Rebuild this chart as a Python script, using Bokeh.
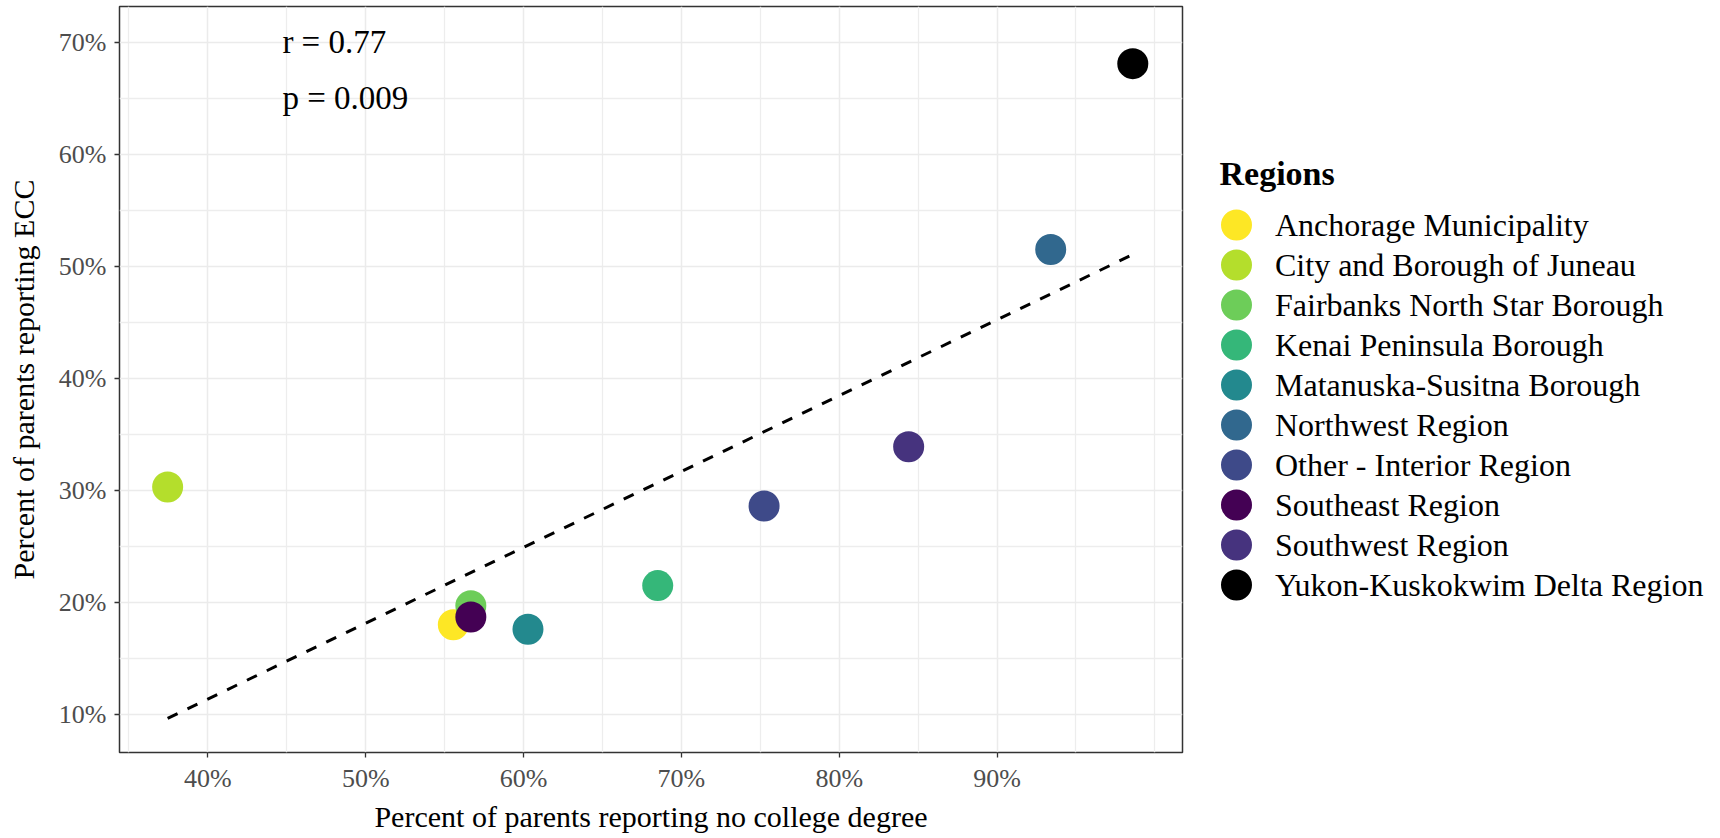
import numpy as np
from bokeh.plotting import figure
from bokeh.models import FixedTicker, Range1d, ColumnDataSource
from bokeh.layouts import row
from bokeh.embed import file_html
from bokeh.resources import INLINE
from bokeh.core.properties import value

# ---------------- data ----------------
regions = [
    "Anchorage Municipality",
    "City and Borough of Juneau",
    "Fairbanks North Star Borough",
    "Kenai Peninsula Borough",
    "Matanuska-Susitna Borough",
    "Northwest Region",
    "Other - Interior Region",
    "Southeast Region",
    "Southwest Region",
    "Yukon-Kuskokwim Delta Region",
]
no_college_pct = [55.55, 37.45, 56.66, 68.5, 60.28, 93.4, 75.24, 56.66, 84.4, 98.6]
ecc_pct = [18.0, 30.3, 19.7, 21.5, 17.6, 51.5, 28.6, 18.7, 33.9, 68.1]
region_colors = ["#FDE725", "#B4DE2C", "#6DCD59", "#35B779", "#23898E",
                 "#31688E", "#3E4A89", "#440154", "#46337E", "#000000"]

x_ticks = [40, 50, 60, 70, 80, 90]
x_tick_labels = ["40%", "50%", "60%", "70%", "80%", "90%"]
y_ticks = [10, 20, 30, 40, 50, 60, 70]
y_tick_labels = ["10%", "20%", "30%", "40%", "50%", "60%", "70%"]

stat_labels = ["r = 0.77", "p = 0.009"]
legend_title = "Regions"
x_title = "Percent of parents reporting no college degree"
y_title = "Percent of parents reporting ECC"

FONT = "Liberation Serif"
FRAME_H = 746

# ---------------- main plot ----------------
p = figure(frame_width=1063, frame_height=FRAME_H,
           x_range=Range1d(34.4, 101.75), y_range=Range1d(6.6, 73.2),
           output_backend="svg", toolbar_location=None,
           min_border_left=119, min_border_right=10,
           min_border_top=6, min_border_bottom=84)
p.background_fill_color = "white"
p.border_fill_color = "white"
p.outline_line_color = "#333333"
p.outline_line_width = 1.5

xt = FixedTicker(ticks=x_ticks, minor_ticks=[35, 45, 55, 65, 75, 85, 95, 100])
yt = FixedTicker(ticks=y_ticks, minor_ticks=[15, 25, 35, 45, 55, 65])
p.xaxis.ticker = xt
p.yaxis.ticker = yt
p.xgrid.ticker = xt
p.ygrid.ticker = yt
for g in (p.xgrid, p.ygrid):
    g.grid_line_color = "#EBEBEB"
    g.grid_line_width = 1.5
    g.minor_grid_line_color = "#EDEDED"
    g.minor_grid_line_width = 1.3

p.xaxis.major_label_overrides = dict(zip(x_ticks, x_tick_labels))
p.yaxis.major_label_overrides = dict(zip(y_ticks, y_tick_labels))
p.xaxis.axis_label = x_title
p.yaxis.axis_label = y_title

for ax in (p.xaxis[0], p.yaxis[0]):
    ax.axis_line_color = None
    ax.major_tick_line_color = "#333333"
    ax.major_tick_line_width = 1.3
    ax.major_tick_out = 5
    ax.major_tick_in = 0
    ax.minor_tick_line_color = None
    ax.major_label_text_font = FONT
    ax.major_label_text_font_size = "26px"
    ax.major_label_text_color = "#4D4D4D"
    ax.axis_label_text_font = FONT
    ax.axis_label_text_font_size = "30px"
    ax.axis_label_text_font_style = "normal"
    ax.axis_label_text_color = "black"
p.xaxis.major_label_standoff = 6
p.xaxis.axis_label_standoff = 4
p.yaxis.major_label_standoff = 8
p.yaxis.axis_label_standoff = 16

# fitted line from data
slope, intercept = np.polyfit(no_college_pct, ecc_pct, 1)
fit_x = [min(no_college_pct), max(no_college_pct)]
fit_y = [slope * v + intercept for v in fit_x]
p.line(fit_x, fit_y, line_color="black", line_width=3, line_dash="11 11")

src = ColumnDataSource(dict(x=no_college_pct, y=ecc_pct, c=region_colors, r=regions))
p.scatter("x", "y", source=src, size=31, fill_color="c", line_color=None)

p.text(x=[44.72, 44.72], y=[70, 65], text=stat_labels, text_font=value(FONT),
       text_font_size="33px", text_baseline="middle", text_align="left",
       text_color="black")

# ---------------- legend panel ----------------
lg = figure(frame_width=520, frame_height=FRAME_H,
            x_range=Range1d(0, 520), y_range=Range1d(FRAME_H, 0),
            output_backend="svg", toolbar_location=None,
            x_axis_type=None, y_axis_type=None,
            min_border_left=0, min_border_right=0,
            min_border_top=6, min_border_bottom=84)
lg.grid.visible = False
lg.outline_line_color = None
lg.background_fill_color = "white"
lg.border_fill_color = "white"

idx = np.arange(len(regions))
item_y = 218.5 + 40 * idx
lsrc = ColumnDataSource(dict(y=item_y, c=region_colors, r=regions))
lg.scatter(x=44, y="y", source=lsrc, size=31, fill_color="c", line_color=None)
lg.text(x=82.5, y="y", text="r", source=lsrc, text_font=value(FONT),
        text_font_size="32px", text_baseline="middle", text_align="left",
        text_color="black")
lg.text(x=[27], y=[167], text=[legend_title], text_font=value(FONT),
        text_font_size="34px", text_font_style="bold", text_baseline="middle",
        text_align="left", text_color="black")

layout = row(p, lg)
open("out.html", "w").write(file_html(layout, INLINE))
